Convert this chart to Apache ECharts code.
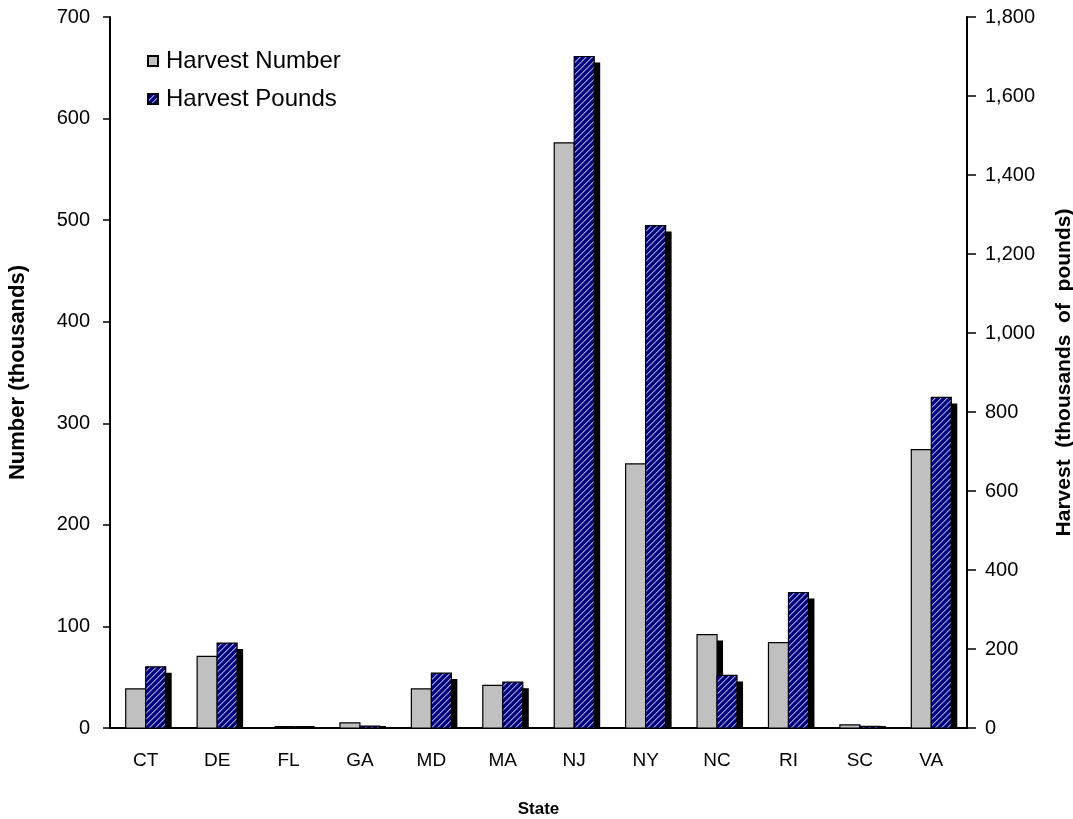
<!DOCTYPE html>
<html>
<head>
<meta charset="utf-8">
<script src="https://cdn.jsdelivr.net/npm/echarts@6/dist/echarts.min.js"></script>
<style>
  html, body { margin: 0; padding: 0; background: #fff; }
  #chart { width: 1073px; height: 819px; }
</style>
</head>
<body>
<div id="chart"></div>
<script>
// data
const states = ['CT', 'DE', 'FL', 'GA', 'MD', 'MA', 'NJ', 'NY', 'NC', 'RI', 'SC', 'VA'];
const harvestNumber = [38.5, 70.5, 0, 5, 38.5, 42, 576, 260, 92, 84, 3, 274];
const harvestPounds = [155, 215, 0, 5, 139, 116, 1700, 1272, 133, 343, 4, 837];

// navy hatch pattern for the pounds bars
function hatch() {
    let c = document.createElement('canvas');
    c.width = 6;
    c.height = 6;
    let ctx = c.getContext('2d');
    ctx.fillStyle = '#000080';
    ctx.fillRect(0, 0, 6, 6);
    for (let x = 0; x < 6; x++) {
        for (let y = 0; y < 6; y++) {
            let k = (x + y) % 6;
            if (k === 0) {
                ctx.fillStyle = '#9c9cd0';
                ctx.fillRect(x, y, 1, 1);
            } else if (k === 1) {
                ctx.fillStyle = '#5454a4';
                ctx.fillRect(x, y, 1, 1);
            }
        }
    }
    return c;
}

const font = '"Liberation Sans", Arial, sans-serif';
const barW = 20;
const shadowOff = 6;
const greyFill = '#c0c0c0';
const navyFill = { image: hatch(), repeat: 'repeat' };

// bar with a hard black drop shadow, placed through the axes
function barRenderer(fill, side) {
    return function (params, api) {
        let base = api.coord([api.value(0), 0]);
        let top = api.coord([api.value(0), api.value(1)]);
        let x0 = side < 0 ? base[0] - barW : base[0];
        let h = base[1] - top[1];
        // shadow stops at the axis line
        let sy = Math.min(top[1] + shadowOff, base[1] - 2);
        return {
            type: 'group',
            children: [{
                type: 'rect',
                shape: { x: x0 + shadowOff, y: sy, width: barW, height: base[1] - sy + 1 },
                style: { fill: '#000' }
            }, {
                type: 'rect',
                shape: { x: x0, y: top[1], width: barW, height: h },
                style: { fill: fill, stroke: '#000', lineWidth: 1.2 }
            }]
        };
    };
}

let chart = echarts.init(document.getElementById('chart'));
chart.setOption({
    animation: false,
    textStyle: { fontFamily: font },
    grid: { left: 110, right: 106, top: 17, bottom: 91, outerBoundsMode: 'none', containLabel: false },
    legend: {
        orient: 'vertical',
        left: 147,
        top: 49,
        padding: 0,
        itemGap: 14,
        itemWidth: 10,
        itemHeight: 10,
        icon: 'rect',
        textStyle: { fontSize: 24, color: '#000', fontFamily: font, padding: [0, 0, 0, 3] },
        data: ['Harvest Number', 'Harvest Pounds']
    },
    xAxis: {
        type: 'category',
        data: states,
        name: 'State',
        nameLocation: 'middle',
        nameGap: 73,
        nameTextStyle: { fontWeight: 'bold', fontSize: 17, color: '#000' },
        axisLine: { lineStyle: { color: '#000', width: 2 } },
        axisTick: { length: 7, lineStyle: { color: '#000', width: 1.5 } },
        axisLabel: { fontSize: 19, color: '#000', margin: 23 }
    },
    yAxis: [{
        type: 'value',
        min: 0,
        max: 700,
        interval: 100,
        name: 'Number (thousands)',
        nameLocation: 'middle',
        nameGap: 81,
        nameRotate: 90,
        nameTextStyle: { fontWeight: 'bold', fontSize: 22, color: '#000' },
        splitLine: { show: false },
        axisLine: { show: true, lineStyle: { color: '#000', width: 2 } },
        axisTick: { show: true, length: 7, lineStyle: { color: '#000', width: 1.5 } },
        axisLabel: { fontSize: 20, color: '#000', margin: 20 }
    }, {
        type: 'value',
        min: 0,
        max: 1800,
        interval: 200,
        position: 'right',
        name: 'Harvest  (thousands  of  pounds)',
        nameLocation: 'middle',
        nameGap: 87,
        nameRotate: 90,
        nameTextStyle: { fontWeight: 'bold', fontSize: 21, color: '#000' },
        splitLine: { show: false },
        axisLine: { show: true, lineStyle: { color: '#000', width: 2 } },
        axisTick: { show: true, length: 9, lineStyle: { color: '#000', width: 1.5 } },
        axisLabel: {
            fontSize: 20,
            color: '#000',
            margin: 18,
            formatter: v => v.toLocaleString('en-US')
        }
    }],
    series: [{
        name: 'Harvest Number',
        type: 'custom',
        yAxisIndex: 0,
        data: harvestNumber.map((v, i) => [i, v]),
        encode: { x: 0, y: 1 },
        itemStyle: { color: greyFill, borderColor: '#000', borderWidth: 1.2 },
        renderItem: barRenderer(greyFill, -1)
    }, {
        name: 'Harvest Pounds',
        type: 'custom',
        yAxisIndex: 1,
        data: harvestPounds.map((v, i) => [i, v]),
        encode: { x: 0, y: 1 },
        itemStyle: { color: navyFill, borderColor: '#000', borderWidth: 1.2 },
        renderItem: barRenderer(navyFill, 1)
    }]
});
</script>
</body>
</html>
